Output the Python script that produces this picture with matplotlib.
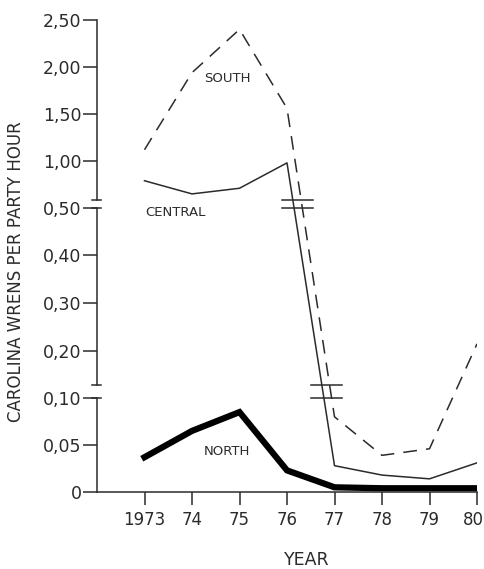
import numpy as np
import matplotlib.pyplot as plt
import matplotlib.transforms as mtransforms

years = [1973, 1974, 1975, 1976, 1977, 1978, 1979, 1980]
year_labels = ["1973", "74", "75", "76", "77", "78", "79", "80"]
south = [1.12, 1.94, 2.40, 1.56, 0.080, 0.039, 0.046, 0.214]
central = [0.79, 0.65, 0.71, 0.98, 0.028, 0.018, 0.014, 0.031]
north = [0.037, 0.065, 0.085, 0.023, 0.005, 0.004, 0.004, 0.004]

yticks = [0, 0.05, 0.10, 0.20, 0.30, 0.40, 0.50, 1.00, 1.50, 2.00, 2.50]
ytick_labels = ["0", "0,05", "0,10", "0,20", "0,30", "0,40", "0,50",
                "1,00", "1,50", "2,00", "2,50"]

# broken y axis: three linear pieces joined end to end
knots_v = [0, 0.1, 0.5, 2.5]
knots_p = [0, 94, 284, 472]
axis_pieces = [(0, 0.1), (0.127, 0.5), (0.585, 2.5)]
gaps = [(0.1, 0.127), (0.5, 0.585)]


def forward(v):
    return np.interp(v, knots_v, knots_p)


def inverse(p):
    return np.interp(p, knots_p, knots_v)


ink = "#2b2b2b"
plt.rcParams['font.family'] = ['DejaVu Sans']
fig = plt.figure(figsize=(4.85, 5.69), dpi=100)
ax = fig.add_axes([97 / 485, 77 / 569, 380 / 485, 472 / 569])
ax.set_yscale('function', functions=(forward, inverse))
ax.set_xlim(1972.0, 1980.0)
ax.set_ylim(0, 2.5)

ax.plot(years, south, color=ink, lw=1.1, dashes=(9, 6), solid_capstyle='butt')
ax.plot(years, central, color=ink, lw=1.1)
ax.plot(years, north, color="black", lw=4.5, solid_joinstyle='miter')

# left axis drawn in pieces with end caps
for lo, hi in axis_pieces:
    ax.plot([1972.0, 1972.0], [lo, hi], color=ink, lw=1.1, clip_on=False)
for lo, hi in gaps:
    ax.plot([1971.9, 1972.08], [lo, lo], color=ink, lw=1.1, clip_on=False)
    ax.plot([1971.9, 1972.08], [hi, hi], color=ink, lw=1.1, clip_on=False)

# break marks where the lines cross the gaps (between 76 and 77)
for lo, hi in gaps:
    mid = forward((lo + hi) / 2)
    xs = []
    for series in (south, central):
        p = forward(np.array(series[3:5]))
        xs.append(np.interp(mid, p[::-1], years[3:5][::-1]))
    xc = np.mean(xs)
    for v in (lo, hi):
        ax.plot([xc - 0.33, xc + 0.33], [v, v], color=ink, lw=1.1)

ax.spines['left'].set_visible(False)
ax.spines['top'].set_visible(False)
ax.spines['right'].set_visible(False)
ax.spines['bottom'].set_color(ink)
ax.spines['bottom'].set_linewidth(1.1)

ax.set_xticks(years)
ax.set_xticklabels(year_labels, fontsize=12, color=ink)
ax.set_yticks(yticks)
ax.set_yticklabels(ytick_labels, fontsize=12.5, color=ink)
ax.tick_params(axis='x', direction='out', length=9, width=1.1, color=ink, pad=5)
ax.tick_params(axis='y', direction='out', length=10, width=1.1, color=ink, pad=1)

# keep the last year label inside the figure
last = ax.get_xticklabels()[-1]
last.set_transform(last.get_transform() +
                   mtransforms.ScaledTranslation(-4 / 100, 0, fig.dpi_scale_trans))

ax.text(1974.26, 1.88, "SOUTH", fontsize=9.5, color=ink, ha='left', va='center')
ax.text(1973.02, 0.49, "CENTRAL", fontsize=9.5, color=ink, ha='left', va='center')
ax.text(1974.24, 0.0426, "NORTH", fontsize=9.5, color=ink, ha='left', va='center')

fig.text(16 / 485, 1 - 272 / 569, "CAROLINA WRENS PER PARTY HOUR", rotation=90,
         fontsize=12, color=ink, ha='center', va='center')
fig.text(307 / 485, 1 - 560 / 569, "YEAR", fontsize=12.5,
         color=ink, ha='center', va='center')

fig.savefig("out.png", dpi=100)
